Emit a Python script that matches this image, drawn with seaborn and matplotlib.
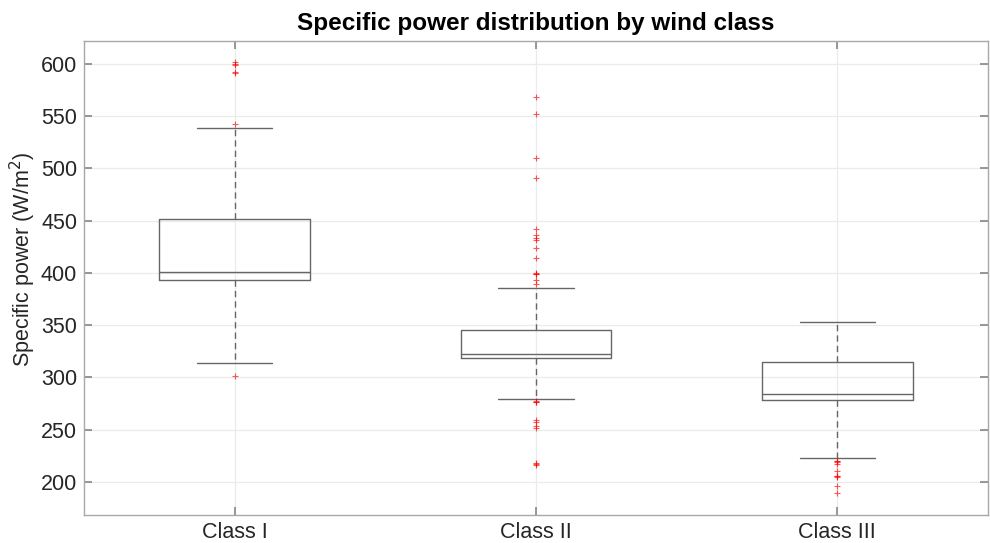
import matplotlib
matplotlib.use("Agg")
import matplotlib.pyplot as plt
import seaborn as sns
import pandas as pd

# ---- data ----
classes = ["Class I", "Class II", "Class III"]
q1 = [393.3, 318.4, 278.5]
median = [400.7, 322.2, 284.0]
q3 = [451.7, 345.2, 314.6]
whisker_low = [314.2, 279.1, 223.3]
whisker_high = [538.5, 385.4, 353.4]
outliers_class1 = [602.0, 600.0, 599.0, 592.5, 591.5, 542.9, 301.2]
outliers_class2 = [568.4, 552.4, 510.0, 491.2, 442.0, 436.6, 433.8, 431.3,
                   424.0, 414.7, 400.4, 399.5, 398.8, 393.3, 389.5,
                   277.6, 276.8, 276.3, 259.6, 257.1, 253.8, 251.3,
                   218.2, 217.5, 216.7]
outliers_class3 = [220.5, 219.8, 218.9, 217.2, 210.2, 206.1, 205.3, 204.5,
                   195.9, 189.5]
yticks = [200, 250, 300, 350, 400, 450, 500, 550, 600]

sns.set_theme(style="whitegrid")
plt.rcParams["font.family"] = ["Liberation Sans", "DejaVu Sans"]

fig = plt.figure(figsize=(9.9, 5.43), dpi=100)
ax = fig.add_axes([84 / 990, 1 - 515 / 543, (988 - 84) / 990, (515 - 41) / 543])

box_col = "#666666"
stats = []
for i, name in enumerate(classes):
    stats.append(dict(label=name, q1=q1[i], med=median[i], q3=q3[i],
                      whislo=whisker_low[i], whishi=whisker_high[i], fliers=[]))
ax.bxp(stats, positions=[0, 1, 2], widths=0.5, showfliers=False,
       boxprops=dict(color=box_col, linewidth=1.0),
       medianprops=dict(color=box_col, linewidth=1.0),
       whiskerprops=dict(color=box_col, linewidth=1.0, linestyle=(0, (4.5, 3))),
       capprops=dict(color=box_col, linewidth=1.0),
       capwidths=0.25, manage_ticks=False)

out_df = pd.DataFrame({
    "cls": ["Class I"] * len(outliers_class1) + ["Class II"] * len(outliers_class2)
           + ["Class III"] * len(outliers_class3),
    "val": outliers_class1 + outliers_class2 + outliers_class3,
})
sns.stripplot(data=out_df, x="cls", y="val", order=classes, jitter=False,
              marker="+", color="#ff0000", size=5, linewidth=0.8, alpha=0.65,
              ax=ax, zorder=4)

ax.set_xlim(-0.5, 2.5)
ax.set_ylim(168.4, 622)
ax.set_yticks(yticks)
ax.set_xticks([0, 1, 2])
ax.set_xticklabels(classes)
ax.set_xlabel("")
ax.set_ylabel("Specific power (W/m$^2$)", fontsize=15.5, color="#262626")
ax.yaxis.set_label_coords(-0.0505, 0.54)
ax.set_title("Specific power distribution by wind class", fontsize=17.5,
             fontweight="bold", color="black", pad=8)

ax.grid(True, color="#ebebeb", linewidth=0.9)
ax.set_axisbelow(True)
for s in ax.spines.values():
    s.set_visible(True)
    s.set_color("#a8a8a8")
    s.set_linewidth(1.0)
ax.tick_params(axis="both", which="both", direction="in", length=6,
               color="#8a8a8a", labelsize=15.5, labelcolor="#262626",
               top=True, right=True, bottom=True, left=True)
ax.tick_params(axis="y", pad=5)
ax.tick_params(axis="x", pad=5)

fig.savefig("out.png", dpi=100)
